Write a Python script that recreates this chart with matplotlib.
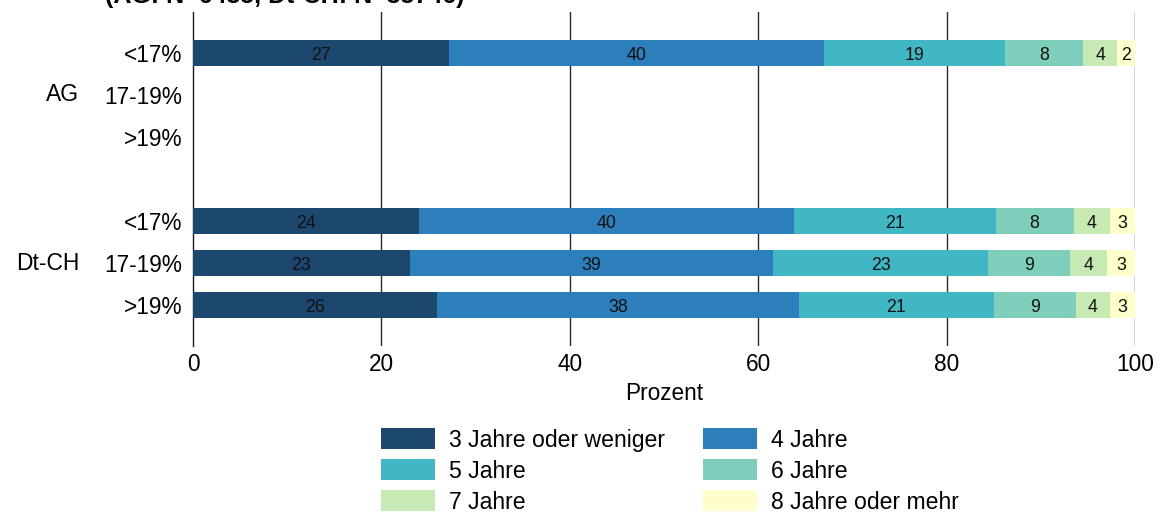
import matplotlib
matplotlib.use("Agg")
import matplotlib.pyplot as plt
from matplotlib.patches import Patch
from matplotlib.transforms import blended_transform_factory

plt.rcParams['font.family'] = ['Liberation Sans', 'DejaVu Sans']

# Row labels (top to bottom); row 3 is an empty spacer between the groups
row_labels = ["<17%", "17-19%", ">19%", "", "<17%", "17-19%", ">19%"]
groups = ["AG", "Dt-CH"]
group_rows = [1, 5]

categories = ["3 Jahre oder weniger", "4 Jahre", "5 Jahre",
              "6 Jahre", "7 Jahre", "8 Jahre oder mehr"]
colors = ["#1c4870", "#2c7fba", "#41b6c4", "#7fcdbb", "#c7e9b4", "#ffffcc"]

# Percent shares per row (None = no data)
ag_lt17 = [27.2, 39.8, 19.2, 8.3, 3.6, 1.9]
ag_17_19 = None
ag_gt19 = None
ch_lt17 = [24.0, 39.8, 21.4, 8.3, 3.8, 2.7]
ch_17_19 = [23.0, 38.6, 22.8, 8.7, 3.9, 3.0]
ch_gt19 = [25.9, 38.4, 20.7, 8.7, 3.6, 2.7]

rows = [ag_lt17, ag_17_19, ag_gt19, None, ch_lt17, ch_17_19, ch_gt19]

x_ticks = [0, 20, 40, 60, 80, 100]
x_label = "Prozent"
subtitle = "(AG: N=6485, Dt-CH: N=35746)"

fig = plt.figure(figsize=(11.59, 5.14), dpi=100)
ax = fig.add_axes([193 / 1159, 1 - 346 / 514, (1135 - 193) / 1159, (346 - 12) / 514])

bar_h = 0.63
for i, vals in enumerate(rows):
    if vals is None:
        continue
    left = 0.0
    for v, c in zip(vals, colors):
        ax.barh(i, v, left=left, height=bar_h, color=c, edgecolor='none', zorder=3)
        ax.text(left + v / 2, i + 0.05, f"{round(v)}", ha='center', va='center',
                fontsize=12.8, color='#111111', zorder=4)
        left += v

ax.set_xlim(0, 100)
ax.set_ylim(6.976, -0.976)
ax.set_xticks(x_ticks)
ax.set_yticks(range(len(row_labels)))
ax.set_yticklabels(row_labels)
ax.tick_params(axis='both', length=0, labelsize=16.3)
ax.tick_params(axis='y', pad=8)
ax.tick_params(axis='x', pad=5)
ax.set_xlabel(x_label, fontsize=16.3, labelpad=4)

for s in ['top', 'right', 'bottom']:
    ax.spines[s].set_visible(False)
ax.spines['left'].set_color('#1a1a1a')
ax.spines['left'].set_linewidth(1.0)
for xv in x_ticks[1:]:
    ax.axvline(xv, color='#2a2a2a', linewidth=1.0, zorder=1)

# Group labels to the left of the row labels
trans = blended_transform_factory(fig.transFigure, ax.transData)
for g, r in zip(groups, group_rows):
    ax.text(79 / 1159, r, g, transform=trans, ha='right', va='center', fontsize=16.5)

# Subtitle line running off the top edge
fig.text(105 / 1159, 1 - 3 / 514, subtitle, ha='left', va='baseline',
         fontsize=18, fontweight='bold')

# Legend laid out row-wise in two columns
order = [0, 2, 4, 1, 3, 5]
handles = [Patch(facecolor=colors[k], edgecolor='none', label=categories[k]) for k in order]
fig.legend(handles=handles, loc='center', bbox_to_anchor=(670 / 1159, 1 - 471 / 514),
           ncol=2, frameon=False, fontsize=16.6, handlelength=2.35, handleheight=1.0,
           handletextpad=0.6, columnspacing=1.65, labelspacing=0.34, borderpad=0)

fig.savefig("out.png", dpi=100)
